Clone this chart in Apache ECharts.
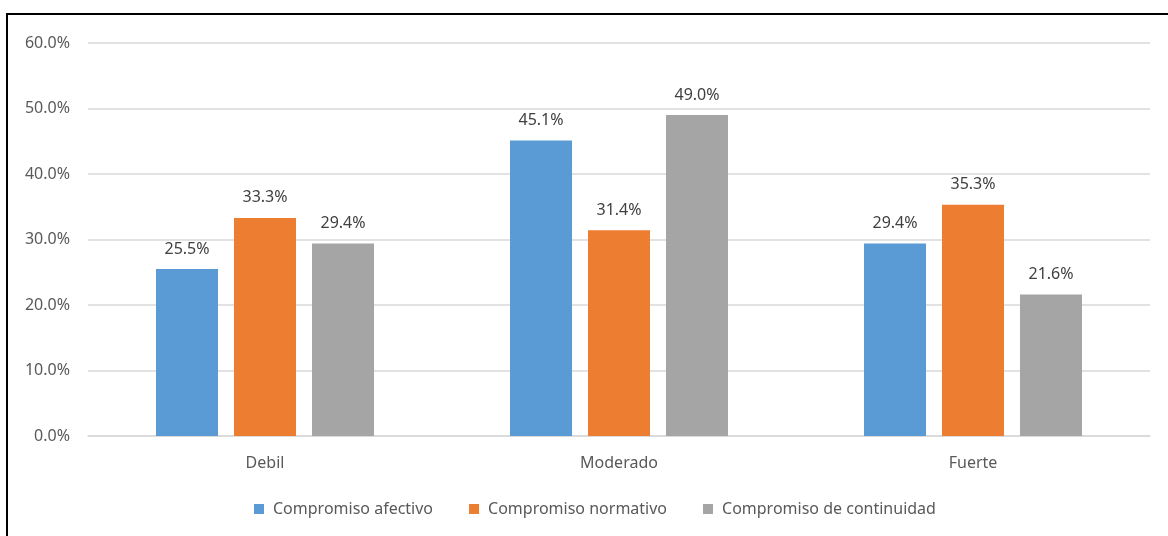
<!DOCTYPE html>
<html>
<head>
<meta charset="utf-8">
<script src="https://cdn.jsdelivr.net/npm/echarts@6/dist/echarts.min.js"></script>
<style>
html,body{margin:0;padding:0;background:#fff;}
#chart{width:1168px;height:536px;}
</style>
</head>
<body>
<div id="chart"></div>
<script>
const categories = ['Debil', 'Moderado', 'Fuerte'];
const seriesNames = ['Compromiso afectivo', 'Compromiso normativo', 'Compromiso de continuidad'];
const afectivo = [25.5, 45.1, 29.4];
const normativo = [33.3, 31.4, 35.3];
const continuidad = [29.4, 49.0, 21.6];
const colors = ['#5b9bd5', '#ed7d31', '#a5a5a5'];
const yMin = 0, yMax = 60, yInterval = 10;

const font = 'Noto Sans';
const fs = 16;
const chart = echarts.init(document.getElementById('chart'), null, {renderer: 'canvas'});
const mk = (name, data, color) => ({
  name: name,
  type: 'bar',
  data: data,
  barWidth: 62,
  barGap: '25.8%',
  itemStyle: {color: color},
  label: {
    show: true, position: 'top', distance: 12,
    color: '#404040', fontFamily: font, fontSize: fs,
    formatter: p => p.value.toFixed(1) + '%'
  }
});
chart.setOption({
  animation: false,
  backgroundColor: '#fff',
  textStyle: {fontFamily: font},
  graphic: [{
    type: 'rect', z: 100, silent: true,
    shape: {x: 7, y: 14, width: 1200, height: 600},
    style: {fill: 'none', stroke: '#000', lineWidth: 2}
  }],
  grid: {left: 88, right: 18, top: 43, bottom: 100, containLabel: false},
  legend: {
    bottom: 14, left: 249,
    itemWidth: 10, itemHeight: 10, itemGap: 36,
    icon: 'rect',
    textStyle: {color: '#595959', fontSize: fs, fontFamily: font, padding: [0, 0, 0, 4]},
    data: seriesNames
  },
  xAxis: {
    type: 'category', data: categories,
    axisTick: {show: false},
    axisLine: {lineStyle: {color: '#d9d9d9', width: 1.5}},
    axisLabel: {color: '#595959', fontSize: fs, fontFamily: font, margin: 19}
  },
  yAxis: {
    type: 'value', min: yMin, max: yMax, interval: yInterval,
    axisLine: {show: false}, axisTick: {show: false},
    splitLine: {lineStyle: {color: '#d9d9d9', width: 1.5}},
    axisLabel: {color: '#595959', fontSize: fs, fontFamily: font, margin: 18,
      formatter: v => v.toFixed(1) + '%'}
  },
  series: [
    mk(seriesNames[0], afectivo, colors[0]),
    mk(seriesNames[1], normativo, colors[1]),
    mk(seriesNames[2], continuidad, colors[2])
  ]
});
</script>
</body>
</html>
